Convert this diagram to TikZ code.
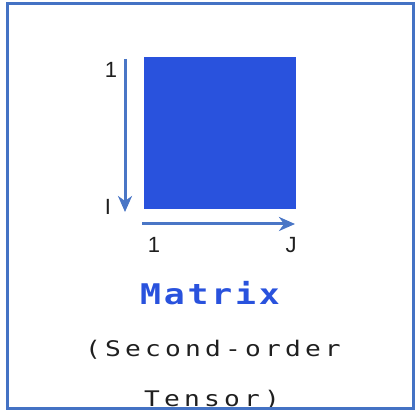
\documentclass[tikz,border=0pt]{standalone}
\usepackage{fontspec}
\setmainfont{Liberation Sans}
\newfontfamily\capfont[LetterSpace=19.5,FakeStretch=1.22]{DejaVu Sans Mono}
\newfontfamily\namefont[LetterSpace=10,FakeStretch=1.22]{DejaVu Sans Mono}
\usetikzlibrary{positioning,arrows.meta}
\definecolor{frameblue}{HTML}{4472C4}
\definecolor{tensorblue}{HTML}{2952DD}
\definecolor{axisblue}{HTML}{4A76C6}
\tikzset{
  idx/.style={font=\fontsize{22}{22}\selectfont,text=black!88,inner sep=0pt,anchor=base},
  axis/.style={-{Stealth[length=16pt,width=14pt,inset=5pt]},line width=3pt,draw=axisblue},
  title/.style={font=\namefont\bfseries\fontsize{28.5}{28.5}\selectfont,text=tensorblue,inner sep=0pt,anchor=base},
  subtitle/.style={font=\capfont\fontsize{21.5}{21.5}\selectfont,text=black!88,inner sep=0pt,anchor=base},
}
\begin{document}
\begin{tikzpicture}[x=1pt,y=-1pt]
\useasboundingbox (0,0) rectangle (416,411);
% the matrix block
\node[fill=tensorblue,minimum size=152pt,inner sep=0pt,anchor=north west] (mat) at (144,57) {};
% index axes
\coordinate (rowtop) at (125,59);
\coordinate (rowbot) at (125,212);
\coordinate (colleft) at (142,224);
\coordinate (colright) at (295,224);
\draw[axis] (rowtop) -- (rowbot);
\draw[axis] (colleft) -- (colright);
\node[idx] (rowfirst) at (111,78) {1};
\node[idx] (rowlast) at (108,215) {I};
\node[idx] (colfirst) at (154,253) {1};
\node[idx] (collast) at (291,253) {J};
% caption
\node[title] (name) at (210,305) {Matrix};
\node[subtitle] (kind) at (213,357) {(Second-order};
\node[subtitle] (kindb) at (212,407) {Tensor)};
\draw[frameblue,line width=3pt] (7,4) rectangle (413,409);
\end{tikzpicture}
\end{document}
